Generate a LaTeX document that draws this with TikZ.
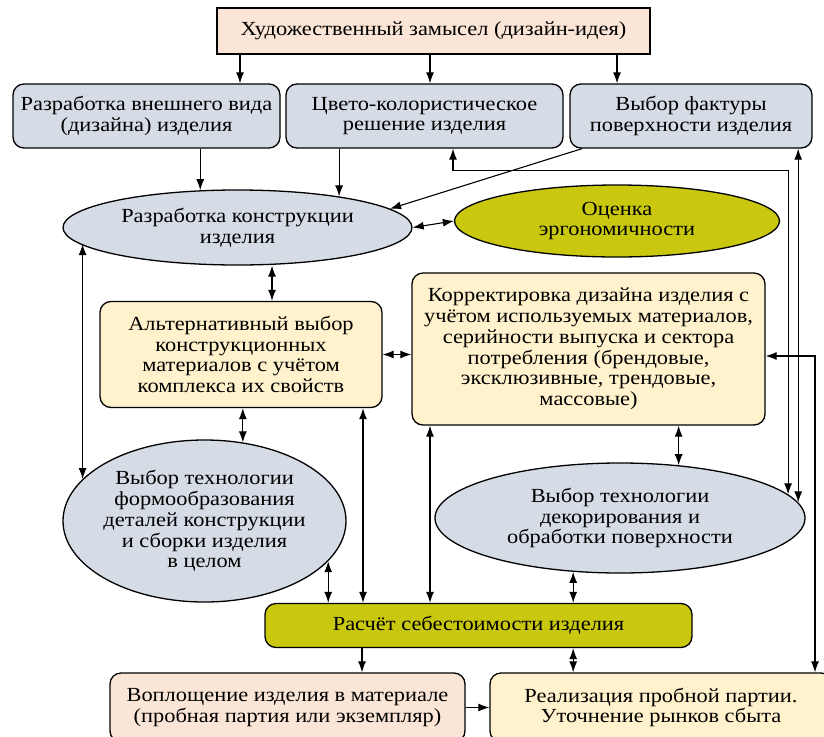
\documentclass[tikz,border=0pt]{standalone}
\usepackage{fontspec}
\setmainfont{Liberation Serif}[FakeStretch=1.12]
\usetikzlibrary{arrows.meta,shapes.geometric,calc}
\definecolor{peach}{HTML}{FBE5D6}
\definecolor{steel}{HTML}{D6DCE5}
\definecolor{cream}{HTML}{FFF2CC}
\definecolor{ergo}{HTML}{C9C80F}

\begin{document}
\begin{tikzpicture}[x=1pt, y=-1pt,
  font=\rmfamily\fontsize{20}{20.8}\selectfont, >={Latex[length=11pt,width=8pt]},
  box/.style={draw, line width=1.3pt, rounded corners=11pt, align=center, inner sep=0pt},
  warm/.style={box, fill=peach},
  task/.style={box, fill=steel},
  mat/.style={box, fill=cream},
  oval/.style={draw, line width=1.3pt, ellipse, align=center, inner sep=-12pt, fill=steel},
  every path/.append style={line width=1.1pt}]
\useasboundingbox (0,0) rectangle (824,736);
% ---- idea and first decisions
\node[warm, sharp corners, minimum width=433pt, minimum height=46pt] (idea) at (433.5,31) {Художественный замысел (дизайн-идея)};
\node[task, minimum width=267pt, minimum height=64pt] (vid) at (146.5,116) {Разработка внешнего вида\\(дизайна) изделия};
\node[task, minimum width=277pt, minimum height=64pt] (tsvet) at (424.5,116) {Цвето-колористическое\\решение изделия};
\node[task, minimum width=242pt, minimum height=64pt] (faktura) at (691,116) {Выбор фактуры\\поверхности изделия};
\node[oval, minimum width=349pt, minimum height=75pt] (konstr) at (237.5,227.5) {Разработка конструкции\\изделия};
\node[oval, fill=ergo, minimum width=325pt, minimum height=72pt] (ergo) at (617,221) {Оценка\\эргономичности};
% ---- materials and technologies
\node[mat, minimum width=282pt, minimum height=106pt] (alt) at (241,354.5) {Альтернативный выбор\\конструкционных\\материалов с учётом\\комплекса их свойств};
\node[mat, minimum width=353pt, minimum height=152pt] (korr) at (588.5,349) {Корректировка дизайна изделия с\\учётом используемых материалов,\\серийности выпуска и сектора\\потребления (брендовые,\\эксклюзивные, трендовые,\\массовые)};
\node[oval, minimum width=283pt, minimum height=162pt] (form) at (204.5,521) {Выбор технологии\\формообразования\\деталей конструкции\\и сборки изделия\\в целом};
\node[oval, minimum width=370pt, minimum height=110pt] (decor) at (620,518) {Выбор технологии\\декорирования и\\обработки поверхности};
% ---- cost and output
\node[box, fill=ergo, minimum width=427pt, minimum height=44pt] (cost) at (478.5,625.5) {Расчёт себестоимости изделия};
\node[warm, minimum width=355pt, minimum height=69pt] (vopl) at (287.5,707.5) {Воплощение изделия в материале\\(пробная партия или экземпляр)};
\node[mat, minimum width=342pt, minimum height=69pt] (real) at (661,707.5) {Реализация пробной партии.\\Уточнение рынков сбыта};
% ---- connectors
\draw[->] (idea.south -| 240,0) -- (vid.north -| 240,0);
\draw[->] (idea.south -| 430,0) -- (tsvet.north -| 430,0);
\draw[->] (idea.south -| 617,0) -- (faktura.north -| 617,0);
\draw[->] (konstr.135.7 |- vid.south) -- (konstr.135.7);
\draw[->] (konstr.17.7 |- tsvet.south) -- (konstr.17.7);
\draw[->] (faktura.south -| 582,0) -- (konstr.7.4);
\draw[<->] (konstr.east) -- (ergo.west);
\draw[<->] (konstr.south -| 272,0) -- (alt.north -| 272,0);
\draw[<->] (form.161.1 |- konstr.186.4) -- (form.161.1);
\draw[<->] (alt.east) -- (alt.east -| korr.west);
\draw[<->] (alt.south -| form.64.4) -- (form.64.4);
\draw[<->] (alt.south -| 363,0) -- (cost.north -| 363,0);
\draw[<->] (form.342.8) -- (form.342.8 |- cost.north);
\draw[<->] (korr.south -| 430,0) -- (cost.north -| 430,0);
\draw[<->] (korr.south -| decor.42) -- (decor.42);
\draw[<->] (decor.229.9) -- (decor.229.9 |- cost.north);
\draw[<->] (cost.south -| decor.229.9) -- (real.north -| decor.229.9);
\draw[->] (cost.south -| 362,0) -- (vopl.north -| 362,0);
\draw[->] (vopl.east) -- (real.west);
% ---- loops on the right
\draw[<->] (tsvet.south -| 453,0) -- ++(0,22) -| (decor.8.6);
\draw[<->] (faktura.south -| decor.5.2) -- (decor.5.2);
\draw[<->] ($(korr.east)+(0,7)$) -| (real.north -| 815,0);
\end{tikzpicture}
\end{document}
